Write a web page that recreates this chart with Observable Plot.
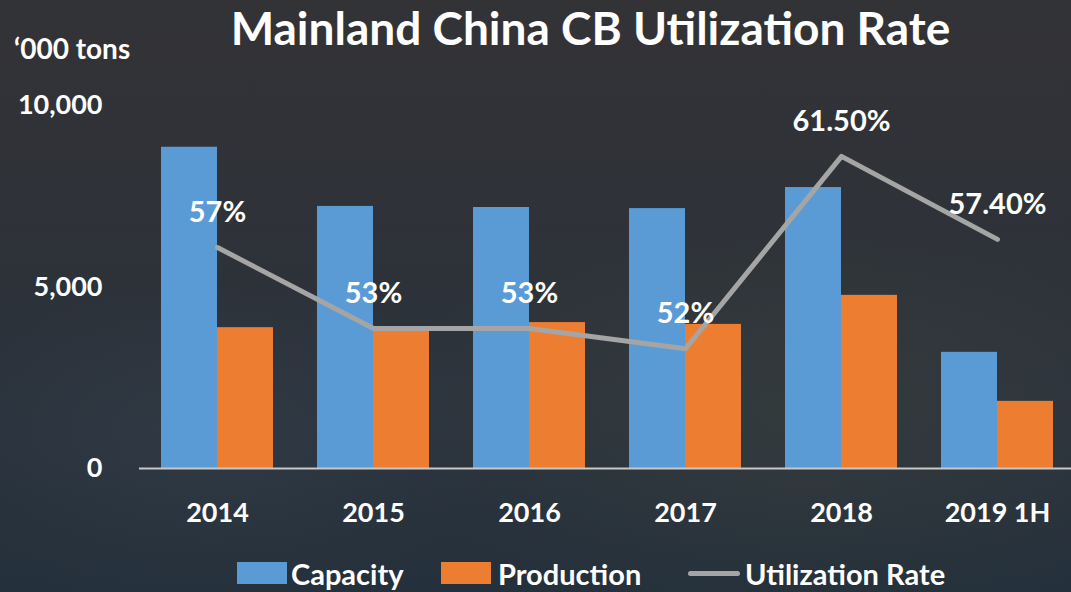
<!DOCTYPE html>
<html>
<head>
<meta charset="utf-8">
<script src="https://cdn.jsdelivr.net/npm/d3@7"></script>
<script src="https://cdn.jsdelivr.net/npm/@observablehq/plot@0.6"></script>
<style>
  html, body { margin: 0; padding: 0; }
  #wrap {
    position: relative; width: 1071px; height: 592px; overflow: hidden;
    background:
      radial-gradient(ellipse 60% 50% at 75% 70%, rgba(70,75,60,0.35), rgba(0,0,0,0) 70%),
      radial-gradient(ellipse 40% 40% at 20% 75%, rgba(60,70,80,0.35), rgba(0,0,0,0) 70%),
      linear-gradient(180deg, #333336 0%, #2f3238 35%, #2a323d 70%, #24303b 100%);
    font-family: Lato, "Open Sans", sans-serif; color: #fff;
  }
  #title { position: absolute; top: 0px; left: 55px; width: 1071px; text-align: center;
    font-size: 46px; font-weight: 700; white-space: nowrap; }
  #unit { position: absolute; left: 14px; top: 31px; font-size: 28px; font-weight: 700; }
  #chart { position: absolute; left: 0; top: 60px; }
  #legend { position: absolute; top: 557px; left: 0; width: 1071px; height: 32px; }
  .li { position: absolute; top: 0; display: flex; align-items: center; height: 32px;
    font-size: 29px; font-weight: 700; white-space: nowrap; }
  .sw { display: inline-block; width: 50px; height: 22px; margin-right: 4px; }
  .ln { display: inline-block; width: 52px; height: 5px; border-radius: 3px; background: #a5a5a5; margin-right: 5px; }
</style>
</head>
<body>
<div id="wrap">
  <div id="title">Mainland China CB Utilization Rate</div>
  <div id="unit">‘000 tons</div>
  <div id="chart"></div>
  <div id="legend">
    <div class="li" style="left:237px"><span class="sw" style="background:#5b9bd5"></span><span class="t">Capacity</span></div>
    <div class="li" style="left:441px"><span class="sw" style="background:#ed7d31;margin-right:7px"></span><span class="t">Production</span></div>
    <div class="li" style="left:688px"><span class="ln"></span><span class="t">Utilization Rate</span></div>
  </div>
</div>
<script>
const years = ["2014", "2015", "2016", "2017", "2018", "2019 1H"];
const capacity = [8850, 7220, 7190, 7160, 7740, 3200];
const production = [3880, 3780, 4020, 3970, 4770, 1850];
const utilization = [57, 53, 53, 52, 61.5, 57.4];
const utilLabels = ["57%", "53%", "53%", "52%", "61.50%", "57.40%"];
const yTicks = [0, 5000, 10000];

// secondary (hidden) axis for utilization: 46.09% .. 64.01% spans the same height as 0 .. 10,000
const uMin = 46.09, uMax = 64.01;
const toPrimary = (u) => (u - uMin) / (uMax - uMin) * 10000;

const bars = years.map((y, i) => ({year: y, capacity: capacity[i], production: production[i]}));
const util = years.map((y, i) => ({year: y, u: utilization[i], label: utilLabels[i]}));

const W = 1071, H = 480;
const halfBar = 56;

const chart = Plot.plot({
  width: W, height: H,
  marginTop: 45, marginBottom: 72, marginLeft: 139, marginRight: 0,
  style: {background: "transparent", color: "#fff", fontFamily: "Lato, 'Open Sans', sans-serif", overflow: "visible"},
  x: {domain: years, range: [139, 1075], paddingInner: 0.28, paddingOuter: 0.14, label: null},
  y: {domain: [0, 10000], label: null},
  marks: [
    Plot.barY(bars, {x: "year", y: "capacity", fill: "#5b9bd5", insetRight: halfBar}),
    Plot.barY(bars, {x: "year", y: "production", fill: "#ed7d31", insetLeft: halfBar}),
    Plot.ruleY([0], {stroke: "#c8c8c8", strokeWidth: 2}),
    Plot.lineY(util, {x: "year", y: d => toPrimary(d.u), stroke: "#a5a5a5", strokeWidth: 5, strokeLinecap: "round", strokeLinejoin: "round"}),
    Plot.text(util, {x: "year", y: d => toPrimary(d.u), text: "label", dy: -35, fill: "#fff", fontSize: 29, fontWeight: 700}),
    Plot.axisY({ticks: yTicks, tickSize: 0, tickPadding: 0, dx: -37, tickFormat: d3.format(","), fontSize: 27, fontWeight: 700, fill: "#fff", label: null}),
    Plot.axisX({tickSize: 0, tickPadding: 34, fontSize: 27, fontWeight: 700, fill: "#fff", label: null})
  ]
});
document.getElementById("chart").appendChild(chart);
</script>
</body>
</html>
